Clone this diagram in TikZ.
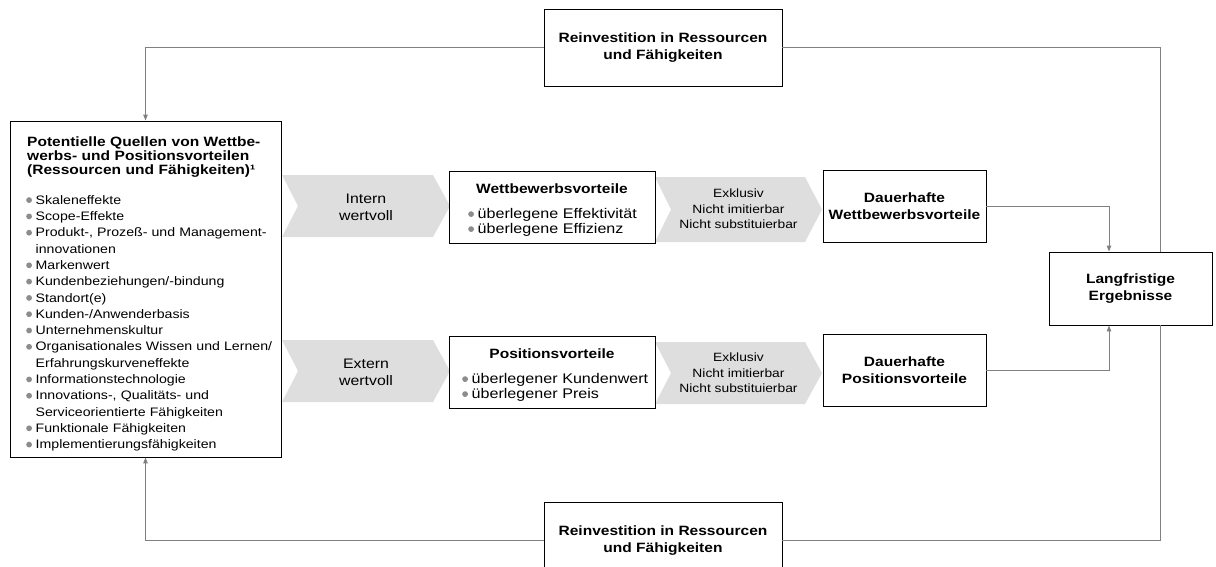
\documentclass[tikz,border=0pt]{standalone}
\usepackage{fontspec}
\setmainfont{Liberation Sans}[FakeStretch=1.15]
\usetikzlibrary{arrows.meta}

\definecolor{lineGray}{HTML}{808080}
\definecolor{chevFill}{HTML}{DEDEDE}
\definecolor{dotGray}{HTML}{8C8C8C}

% text sizes
\newcommand\fList{\fontsize{12.3pt}{16.3pt}\selectfont\lineskiplimit=-20pt}
\newcommand\fTitle{\bfseries\fontsize{13.5pt}{14pt}\selectfont\lineskiplimit=-20pt}
\newcommand\fHead{\bfseries\fontsize{13.5pt}{17pt}\selectfont}
\newcommand\fBox{\fontsize{14pt}{15pt}\selectfont\lineskiplimit=-20pt}
\newcommand\fChev{\fontsize{12pt}{15.5pt}\selectfont}
\newcommand\fChevBig{\fontsize{13.8pt}{17pt}\selectfont}

% grey bullet, hanging indent, first-line strut
\newcommand\dotmark{\tikz[baseline=0pt,x=1pt,y=1pt]\fill[dotGray] (2.9,4.1) circle (2.9);}
\newcommand\bitem{\makebox[9.5pt][l]{\dotmark}}
\newcommand\bcont{\hspace*{9.5pt}}
\newcommand\fs{\rule{0pt}{12pt}}

\begin{document}
\begin{tikzpicture}[x=1pt, y=-1pt,
  panel/.style={draw=black, line width=0.9pt, fill=white, inner sep=0pt},
  link/.style={draw=lineGray, line width=1pt},
  linktip/.style={link, -{Triangle[length=6pt,width=4.5pt]}},
  block/.style={anchor=north west, inner sep=0pt, text width=300pt, align=left},
  chevron/.style={fill=chevFill, draw=none},
  chevtext/.style={font=\fChev, align=center, inner sep=0pt},
  headtext/.style={font=\fHead, anchor=base, inner sep=0pt}]
\useasboundingbox (0,0) rectangle (1216,566);
\clip (0,0) rectangle (1216,566);

% sources of advantage
\node[panel, minimum width=271pt, minimum height=336pt] (lq) at (145.5,289) {};
\node[block, font=\fTitle] (lqhead) at (27,134.7)
  {\fs Potentielle Quellen von Wettbe-\\werbs- und Positionsvorteilen\\(Ressourcen und Fähigkeiten)¹};
\node[block, font=\fList] (lqlist) at (26,192)
  {\fs\bitem Skaleneffekte\\
   \bitem Scope-Effekte\\
   \bitem Produkt-, Prozeß- und Management-\\
   \bcont innovationen\\
   \bitem Markenwert\\
   \bitem Kundenbeziehungen/-bindung\\
   \bitem Standort(e)\\
   \bitem Kunden-/Anwenderbasis\\
   \bitem Unternehmenskultur\\
   \bitem Organisationales Wissen und Lernen/\\
   \bcont Erfahrungskurveneffekte\\
   \bitem Informationstechnologie\\
   \bitem Innovations-, Qualitäts- und\\
   \bcont Serviceorientierte Fähigkeiten\\
   \bitem Funktionale Fähigkeiten\\
   \bitem Implementierungsfähigkeiten};

% chevrons
\fill[chevron] (282,175) -- (433,175) -- (450,206) -- (433,237) -- (282,237) -- (298,206) -- cycle;
\fill[chevron] (655,177) -- (805,177) -- (822,209.5) -- (805,242) -- (655,242) -- (671,209.5) -- cycle;
\fill[chevron] (282,340) -- (433,340) -- (450,371) -- (433,402) -- (282,402) -- (298,371) -- cycle;
\fill[chevron] (655,342) -- (805,342) -- (822,373) -- (805,404) -- (655,404) -- (671,373) -- cycle;
\node[chevtext, font=\fChevBig] (intern) at (366,207) {Intern\\wertvoll};
\node[chevtext, font=\fChevBig] (extern) at (366,372) {Extern\\wertvoll};
\node[chevtext] (exclA) at (738.5,209) {Exklusiv\\Nicht imitierbar\\Nicht substituierbar};
\node[chevtext] (exclB) at (738.5,373) {Exklusiv\\Nicht imitierbar\\Nicht substituierbar};

% advantages
\node[panel, minimum width=206pt, minimum height=72pt] (wv) at (552,207) {};
\node[headtext] (wvhead) at (552,193) {Wettbewerbsvorteile};
\node[block, font=\fBox] (wvlist) at (468,206)
  {\fs\bitem überlegene Effektivität\\\bitem überlegene Effizienz};

\node[panel, minimum width=206pt, minimum height=72pt] (pv) at (552,372) {};
\node[headtext] (pvhead) at (552,358) {Positionsvorteile};
\node[block, font=\fBox] (pvlist) at (462,371)
  {\fs\bitem überlegener Kundenwert\\\bitem überlegener Preis};

% lasting advantages and results
\node[panel, minimum width=163pt, minimum height=72pt, font=\fHead, align=center] (dw) at (904.5,206) {Dauerhafte\\Wettbewerbsvorteile};
\node[panel, minimum width=163pt, minimum height=72pt, font=\fHead, align=center] (dp) at (904.5,370) {Dauerhafte\\Positionsvorteile};
\node[panel, minimum width=163pt, minimum height=73pt, font=\fHead, align=center] (lang) at (1130.5,288.5) {Langfristige\\Ergebnisse};

% reinvestment
\node[panel, minimum width=238pt, minimum height=77pt, font=\fHead, align=center] (reinvTop) at (663,47.5) {Reinvestition in Ressourcen\\und Fähigkeiten};
\node[panel, minimum width=238pt, minimum height=77pt, font=\fHead, align=center] (reinvBot) at (663,540.5) {Reinvestition in Ressourcen\\und Fähigkeiten};

% connectors
\draw[linktip] (dw.east) -| ([xshift=-21.5pt]lang.north);
\draw[linktip] (dp.east) -| ([xshift=-21.5pt]lang.south);
\draw[link] ([xshift=29.5pt]lang.north) |- (reinvTop.east);
\draw[link] ([xshift=29.5pt]lang.south) |- (reinvBot.east);
\draw[linktip] (reinvTop.west) -| (lq.north);
\draw[linktip] (reinvBot.west) -| (lq.south);
\end{tikzpicture}
\end{document}
